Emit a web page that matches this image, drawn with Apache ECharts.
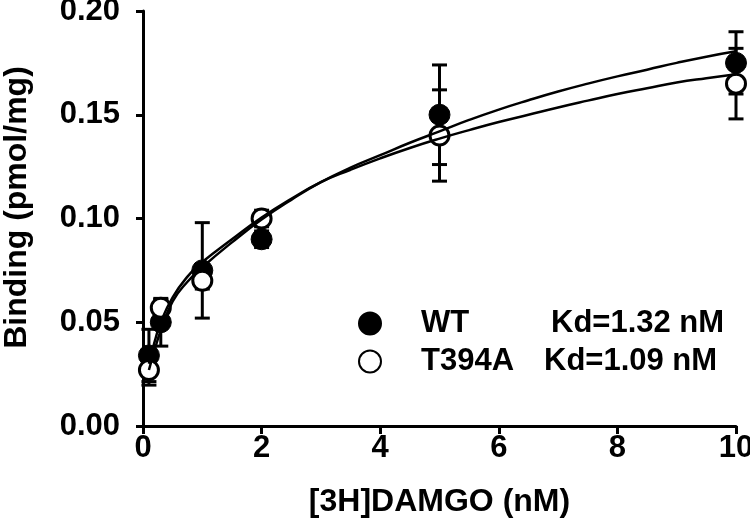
<!DOCTYPE html>
<html>
<head>
<meta charset="utf-8">
<script src="https://cdn.jsdelivr.net/npm/echarts@6/dist/echarts.min.js"></script>
<style>html,body{margin:0;padding:0;background:#fff;}#c{width:750px;height:531px;}</style>
</head>
<body>
<div id="c"></div>
<script>
// Data
const concX = [0.1, 0.3, 1, 2, 5, 10];
const wtY = [0.034, 0.050, 0.075, 0.090, 0.150, 0.175];
const wtErr = [0.0126, 0.0115, 0.023, 0.004, 0.024, 0.015];
const t394aY = [0.027, 0.057, 0.070, 0.100, 0.140, 0.165];
const t394aErr = [0.0073, 0.004, 0.004, 0.004, 0.022, 0.017];

const curveX = [0.1, 0.2, 0.3, 0.5, 0.75, 1, 1.5, 2, 2.5, 3, 3.5, 4, 4.5, 5, 5.5, 6, 6.5, 7, 7.5, 8, 8.5, 9, 9.5, 10];
const wtCurve = [0.027, 0.037, 0.046, 0.060, 0.0695, 0.0765, 0.0885, 0.0995, 0.109, 0.1175, 0.1245, 0.1305, 0.1365, 0.142, 0.1475, 0.1525, 0.157, 0.1612, 0.165, 0.1685, 0.1717, 0.175, 0.178, 0.1806];
const t394aCurve = [0.030, 0.041, 0.050, 0.062, 0.072, 0.079, 0.090, 0.1005, 0.1095, 0.1175, 0.1235, 0.129, 0.134, 0.1385, 0.1426, 0.1465, 0.150, 0.1535, 0.1568, 0.160, 0.1628, 0.1655, 0.1676, 0.1695];

const xTicks = [0, 2, 4, 6, 8, 10];
const yTicks = [0.00, 0.05, 0.10, 0.15, 0.20];
const legendKd = { 'WT': 'Kd=1.32 nM', 'T394A': 'Kd=1.09 nM' };

const FONT = '"Liberation Sans", Arial, sans-serif';
const chart = echarts.init(document.getElementById('c'), null, { renderer: 'canvas' });

function errData(ys, errs) { return concX.map((x, i) => [x, ys[i], errs[i]]); }
function errRender(params, api) {
  const x = api.value(0), y = api.value(1), e = api.value(2);
  const top = api.coord([x, y + e]);
  const bot = api.coord([x, y - e]);
  const hw = 7.5;
  const st = { stroke: '#000', lineWidth: 3 };
  return {
    type: 'group',
    children: [
      { type: 'line', shape: { x1: top[0], y1: top[1], x2: bot[0], y2: bot[1] }, style: st },
      { type: 'line', shape: { x1: top[0] - hw, y1: top[1], x2: top[0] + hw, y2: top[1] }, style: st },
      { type: 'line', shape: { x1: bot[0] - hw, y1: bot[1], x2: bot[0] + hw, y2: bot[1] }, style: st }
    ]
  };
}

const richBase = { fontFamily: FONT, fontWeight: 'bold', fontSize: 31, color: '#000', lineHeight: 30 };

const option = {
  backgroundColor: '#fff',
  animation: false,
  grid: { left: 143, right: 14, top: 11, bottom: 105, containLabel: false, outerBoundsMode: 'none' },
  xAxis: {
    type: 'value', min: 0, max: 10, interval: 2,
    name: '[3H]DAMGO (nM)', nameLocation: 'middle', nameGap: 60,
    nameTextStyle: { fontFamily: FONT, fontWeight: 'bold', fontSize: 32, color: '#000' },
    axisLine: { show: true, lineStyle: { color: '#000', width: 3 } },
    axisTick: { show: true, length: 8, lineStyle: { color: '#000', width: 3 } },
    axisLabel: { color: '#000', fontFamily: FONT, fontWeight: 'bold', fontSize: 31, margin: 7,
      formatter: v => xTicks.includes(v) ? String(v) : '' },
    splitLine: { show: false }
  },
  yAxis: {
    type: 'value', min: 0, max: 0.2, interval: 0.05,
    name: 'Binding (pmol/mg)', nameLocation: 'middle', nameGap: 110, nameRotate: 90,
    nameTextStyle: { fontFamily: FONT, fontWeight: 'bold', fontSize: 32, color: '#000', padding: [0, 0, 0, 22] },
    axisLine: { show: true, lineStyle: { color: '#000', width: 3 } },
    axisTick: { show: true, length: 7, lineStyle: { color: '#000', width: 3 } },
    axisLabel: { color: '#000', fontFamily: FONT, fontWeight: 'bold', fontSize: 31, margin: 23,
      formatter: v => { const t = yTicks.find(k => Math.abs(k - v) < 1e-9); return t === undefined ? '' : t.toFixed(2); } },
    splitLine: { show: false }
  },
  legend: {
    data: ['WT', 'T394A'],
    orient: 'vertical',
    left: 358, top: 308, padding: 0,
    itemWidth: 22, itemHeight: 22, itemGap: 7,
    icon: 'circle',
    formatter: name => name === 'WT' ? `{a1|${name}}{b|${legendKd[name]}}` : `{a2|${name}}{b|${legendKd[name]}}`,
    textStyle: {
      color: '#000', fontFamily: FONT, fontWeight: 'bold', fontSize: 31,
      rich: {
        a1: Object.assign({}, richBase, { padding: [0, 0, 0, 35], width: 130 }),
        a2: Object.assign({}, richBase, { padding: [0, 0, 0, 35], width: 123 }),
        b: Object.assign({}, richBase)
      }
    },
    selectedMode: false
  },
  series: [
    { name: 'WT err', type: 'custom', renderItem: errRender, data: errData(wtY, wtErr), z: 1, silent: true },
    { name: 'T394A err', type: 'custom', renderItem: errRender, data: errData(t394aY, t394aErr), z: 1, silent: true },
    { name: 'WT', type: 'scatter', symbol: 'circle', symbolSize: 21,
      itemStyle: { color: '#000', borderColor: '#000', borderWidth: 1, opacity: 1 },
      data: concX.map((x, i) => [x, wtY[i]]), z: 2 },
    { name: 'T394A', type: 'scatter', symbol: 'circle', symbolSize: 19,
      itemStyle: { color: '#fff', borderColor: '#000', borderWidth: 3, opacity: 1 },
      data: concX.map((x, i) => [x, t394aY[i]]), z: 3 },
    { name: 'WT fit', type: 'line', smooth: true, showSymbol: false, symbol: 'none',
      lineStyle: { color: '#000', width: 2.5 }, data: curveX.map((x, i) => [x, wtCurve[i]]), z: 4 },
    { name: 'T394A fit', type: 'line', smooth: true, showSymbol: false, symbol: 'none',
      lineStyle: { color: '#000', width: 2.5 }, data: curveX.map((x, i) => [x, t394aCurve[i]]), z: 4 }
  ]
};
chart.setOption(option);
</script>
</body>
</html>
